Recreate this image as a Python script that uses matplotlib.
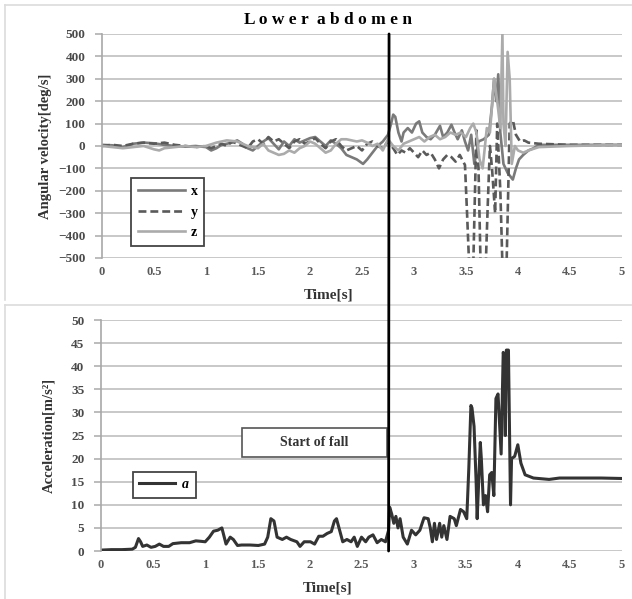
import matplotlib
matplotlib.use("Agg")
import matplotlib.pyplot as plt
from matplotlib.patches import Rectangle, ConnectionPatch
from matplotlib.lines import Line2D

plt.rcParams['font.family'] = ['Liberation Serif', 'DejaVu Serif']

# Angular velocity of the lower abdomen [deg/s]
t_x = [0.0, 0.1, 0.2, 0.3, 0.4, 0.5, 0.6, 0.7, 0.8, 0.9, 1.0, 1.05, 1.1, 1.15, 1.25, 1.3,
       1.35, 1.4, 1.45, 1.5, 1.55, 1.6, 1.65, 1.7, 1.75, 1.8, 1.85, 1.9, 1.95, 2.0, 2.05,
       2.1, 2.15, 2.2, 2.25, 2.3, 2.35, 2.4, 2.45, 2.51, 2.55, 2.6, 2.65, 2.7, 2.75, 2.78,
       2.8, 2.82, 2.85, 2.88, 2.9, 2.94, 2.98, 3.02, 3.05, 3.08, 3.12, 3.16, 3.2, 3.25,
       3.28, 3.32, 3.36, 3.39, 3.42, 3.46, 3.49, 3.52, 3.55, 3.58, 3.62, 3.67, 3.72, 3.75,
       3.77, 3.79, 3.81, 3.83, 3.86, 3.9, 3.95, 3.98, 4.01, 4.05, 4.1, 4.15, 4.2, 4.5, 5.0]
w_x = [5, 3, -5, 10, 15, 12, 5, 0, -3, 0, -5, -20, -10, 5, 15, 25,
       10, -10, -20, 0, 20, 35, 10, -15, 20, 0, 30, 15, 25, 35, 40,
       20, 0, 25, 10, -10, -40, -50, -60, -80, -60, -30, 0, 20, 50, 100,
       140, 130, 60, 20, 60, 80, 60, 100, 110, 60, 40, 30, 50, 90,
       40, 60, 95, 60, 30, 70, 20, -20, 50, -80, 20, 30, 50, 180,
       300, 200, 320, 60, -80, -120, -150, -100, -60, -40, -20, -10, 5, 5, 5]

t_y = [0.0, 0.1, 0.2, 0.3, 0.4, 0.5, 0.6, 0.7, 0.8, 0.9, 1.0, 1.05, 1.1, 1.15, 1.2, 1.25,
       1.3, 1.35, 1.4, 1.45, 1.5, 1.55, 1.6, 1.65, 1.7, 1.75, 1.8, 1.85, 1.9, 1.95, 2.0,
       2.05, 2.1, 2.15, 2.2, 2.25, 2.3, 2.35, 2.4, 2.45, 2.5, 2.55, 2.6, 2.65, 2.7, 2.75,
       2.8, 2.84, 2.88, 2.92, 2.96, 3.0, 3.04, 3.08, 3.12, 3.16, 3.2, 3.24, 3.28, 3.32,
       3.36, 3.4, 3.44, 3.49, 3.51, 3.53, 3.57, 3.6, 3.62, 3.64, 3.69, 3.71, 3.73, 3.75,
       3.78, 3.8, 3.83, 3.85, 3.89, 3.92, 3.95, 3.98, 4.02, 4.06, 4.1, 4.2, 4.5, 5.0]
w_y = [0, 5, 0, 10, 15, 10, 15, 5, 0, -5, 0, -10, 0, 10, 0, 20,
       10, 0, -10, 20, 30, 10, 40, 20, 30, 10, -10, 20, 30, 10, 20,
       35, 10, -10, 20, 30, 0, -20, -10, 0, -20, 10, 20, 0, -10, 20,
       -10, -40, -20, -30, -10, -30, -50, -20, -40, -30, -60, -100, -60, -40,
       -50, -70, -40, -85, -300, -530, -530, 70, -100, -530, -530, -250, 0, -100,
       -300, 100, -200, -530, -530, 100, 116, 50, 20, 25, 15, 10, 5, 5]

t_z = [0.0, 0.1, 0.2, 0.3, 0.4, 0.5, 0.55, 0.6, 0.7, 0.8, 0.9, 1.0, 1.1, 1.2, 1.3, 1.4,
       1.5, 1.55, 1.6, 1.65, 1.7, 1.75, 1.8, 1.85, 1.9, 1.95, 2.0, 2.05, 2.1, 2.15, 2.2,
       2.25, 2.3, 2.35, 2.4, 2.45, 2.5, 2.55, 2.6, 2.65, 2.7, 2.75, 2.8, 2.85, 2.9, 2.95,
       3.0, 3.05, 3.1, 3.15, 3.2, 3.25, 3.3, 3.35, 3.4, 3.45, 3.5, 3.54, 3.57, 3.6, 3.63,
       3.66, 3.7, 3.73, 3.77, 3.8, 3.83, 3.85, 3.86, 3.88, 3.9, 3.92, 3.94, 3.97, 4.0,
       4.05, 4.1, 4.2, 4.5, 5.0]
w_z = [0, -5, -10, -5, 0, -15, -20, -10, -5, 0, -5, 0, 15, 25, 20, 0,
       -10, 10, -20, -30, -40, -35, -20, -30, -10, 0, 20, 10, -10, -30, -20,
       10, 30, 30, 25, 20, 25, 15, 0, 10, -20, 30, 0, -20, 10, 20,
       30, 40, 20, 40, 50, 30, 40, 60, 50, 60, 40, 80, 100, 60, -60,
       -100, 80, 60, 300, 200, 80, 500, 100, 0, 420, 300, -80, 0, -20,
       -30, -20, -5, 0, 5]

# Resultant acceleration [m/s^2]
t_a = [0.0, 0.1, 0.2, 0.3, 0.33, 0.36, 0.38, 0.4, 0.44, 0.48, 0.52, 0.56, 0.6, 0.65, 0.69,
       0.77, 0.85, 0.91, 0.96, 1.0, 1.04, 1.08, 1.12, 1.16, 1.2, 1.24, 1.27, 1.31, 1.35,
       1.43, 1.51, 1.57, 1.6, 1.63, 1.66, 1.69, 1.74, 1.78, 1.82, 1.88, 1.91, 1.95, 2.01,
       2.05, 2.09, 2.13, 2.17, 2.21, 2.24, 2.26, 2.29, 2.32, 2.36, 2.4, 2.43, 2.46, 2.5,
       2.54, 2.57, 2.61, 2.65, 2.69, 2.73, 2.76, 2.77, 2.79, 2.81, 2.83, 2.85, 2.87, 2.9,
       2.94, 2.98, 3.02, 3.06, 3.1, 3.14, 3.16, 3.18, 3.2, 3.22, 3.25, 3.27, 3.29, 3.32,
       3.35, 3.39, 3.41, 3.45, 3.48, 3.51, 3.53, 3.55, 3.56, 3.58, 3.6, 3.61, 3.64, 3.65,
       3.67, 3.69, 3.71, 3.73, 3.75, 3.77, 3.79, 3.81, 3.84, 3.86, 3.87, 3.88, 3.89, 3.91,
       3.93, 3.94, 3.97, 4.0, 4.03, 4.07, 4.15, 4.3, 4.4, 4.6, 4.8, 5.0]
acc = [0.2, 0.3, 0.3, 0.4, 0.8, 2.7, 2.0, 1.0, 1.3, 0.8, 1.0, 1.5, 1.0, 1.0, 1.6,
       1.8, 1.8, 2.2, 2.1, 2.0, 3.0, 4.3, 4.5, 5.0, 1.5, 3.0, 2.5, 1.2, 1.3,
       1.3, 1.2, 1.5, 3.0, 7.0, 6.5, 3.0, 2.5, 3.0, 2.5, 2.0, 1.0, 2.0, 2.0,
       1.5, 3.2, 3.2, 3.8, 4.2, 6.5, 7.0, 4.5, 2.0, 2.5, 2.0, 3.0, 1.0, 3.0,
       2.0, 3.0, 3.5, 1.8, 2.5, 2.0, 4.5, 9.5, 8.0, 6.0, 7.5, 5.0, 7.0, 3.0,
       1.5, 4.5, 3.5, 4.5, 7.2, 7.0, 5.0, 2.0, 6.0, 2.5, 6.0, 3.0, 5.5, 2.5,
       7.5, 7.0, 5.5, 9.0, 8.5, 7.0, 18, 31.5, 31, 27, 15, 7, 23.5, 20,
       10, 12, 8.5, 16.5, 17, 12, 33, 34, 21, 43, 42, 25, 43.5, 43.5,
       10, 20, 20.5, 23, 19, 16.5, 15.8, 15.5, 15.8, 15.8, 15.8, 15.7]

fall_start = 2.76
x_ticks = [0, 0.5, 1, 1.5, 2, 2.5, 3, 3.5, 4, 4.5, 5]
x_tick_labels = ['0', '0.5', '1', '1.5', '2', '2.5', '3', '3.5', '4', '4.5', '5']

fig = plt.figure(figsize=(6.32, 5.99), dpi=100)
ax1 = fig.add_axes([0.1614, 0.5693, 0.8228, 0.374])
ax2 = fig.add_axes([0.1598, 0.0801, 0.8244, 0.3856])

# faint panel borders (left and top edges of each chart area)
border = dict(transform=fig.transFigure, color='#dcdcdc', lw=1.2)
fig.add_artist(Line2D([0.008, 0.008], [0.992, 0.499], **border))
fig.add_artist(Line2D([0.008, 1.0], [0.992, 0.992], **border))
fig.add_artist(Line2D([0.008, 0.008], [0.491, 0.0], **border))
fig.add_artist(Line2D([0.008, 1.0], [0.491, 0.491], **border))


def style(ax, ymin, ymax, ystep):
    ax.set_xlim(0, 5)
    ax.set_ylim(ymin, ymax)
    ax.set_yticks(range(ymin, ymax + 1, ystep))
    ax.set_xticks(x_ticks, x_tick_labels)
    ax.grid(axis='y', color='#c4c4c4', lw=1.3)
    ax.set_axisbelow(True)
    for s in ['top', 'right', 'bottom']:
        ax.spines[s].set_visible(False)
    ax.spines['left'].set_color('#a8a8a8')
    ax.spines['left'].set_linewidth(1.2)
    ax.tick_params(axis='y', length=5, width=1.2, color='#b0b0b0', pad=7,
                   labelsize=9.5, labelcolor='#4a4a4a')
    ax.tick_params(axis='x', length=0, pad=6, labelsize=9, labelcolor='#5a5a5a')
    for lbl in ax.get_xticklabels() + ax.get_yticklabels():
        lbl.set_fontweight('bold')
    ax.set_xlabel('Time[s]', fontsize=11, fontweight='bold', color='#333333',
                  x=0.435, labelpad=7)


style(ax1, -500, 500, 100)
ax1.plot(t_x, w_x, color='#7a7a7a', lw=1.9, label='x')
ax1.plot(t_y, w_y, color='#5a5a5a', lw=1.9, ls=(0, (3, 1.5)), label='y')
ax1.plot(t_z, w_z, color='#ababab', lw=1.9, label='z')
ax1.set_ylabel('Angular velocity[deg/s]', fontsize=10.5, fontweight='bold',
               color='#333333', labelpad=4)
ax1.set_title('L o w e r  a b d o m e n', fontsize=12.5, fontweight='bold',
              x=0.435, pad=7)
leg1 = ax1.legend(loc='upper left', bbox_to_anchor=(0.042, 0.388), fancybox=False,
                  edgecolor='#444444', framealpha=1, handlelength=3.4,
                  labelspacing=0.55, borderpad=0.5, handletextpad=0.4,
                  prop={'weight': 'bold', 'size': 10})
leg1.get_frame().set_linewidth(1.3)

style(ax2, 0, 50, 5)
ax2.plot(t_a, acc, color='#333333', lw=2.2, label='a')
ax2.set_ylabel('Acceleration[m/s²]', fontsize=10.5, fontweight='bold',
               color='#333333', labelpad=11)
leg2 = ax2.legend(loc='upper left', bbox_to_anchor=(0.048, 0.372), fancybox=False,
                  edgecolor='#444444', framealpha=1, handlelength=2.6,
                  borderpad=0.45, handletextpad=0.5,
                  prop={'weight': 'bold', 'style': 'italic', 'size': 10})
leg2.get_frame().set_linewidth(1.3)

# "Start of fall" label box
ax2.add_patch(Rectangle((0.271, 0.407), 0.278, 0.126, transform=ax2.transAxes,
                        facecolor='white', edgecolor='#555555', lw=1.2, zorder=5))
ax2.text(0.41, 0.47, 'Start of fall', transform=ax2.transAxes, ha='center',
         va='center', fontsize=10, fontweight='bold', color='#333333', zorder=6)

# vertical marker at the start of the fall, spanning both panels
con = ConnectionPatch(xyA=(fall_start, 500), coordsA=ax1.transData,
                      xyB=(fall_start, 0), coordsB=ax2.transData,
                      color='black', lw=2.0, zorder=10)
fig.add_artist(con)

fig.savefig('out.png', dpi=100)
